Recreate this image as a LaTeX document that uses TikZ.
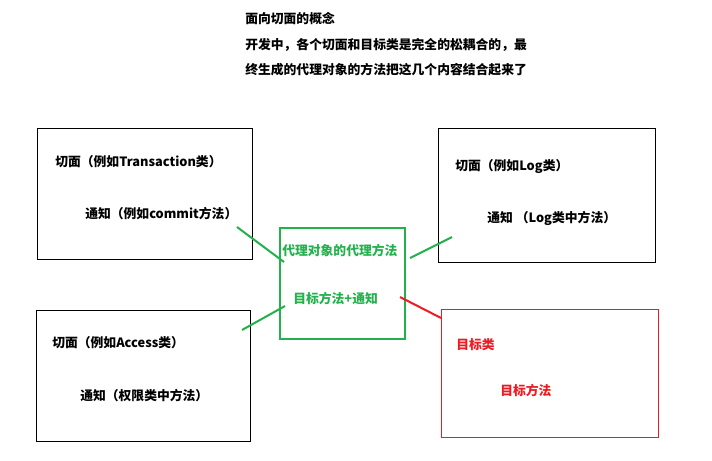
\documentclass[tikz,border=0pt]{standalone}
\usepackage{fontspec}
\setmainfont{Noto Sans CJK SC}
\newfontfamily\cjk{Noto Sans CJK SC}
\definecolor{aopgreen}{RGB}{34,177,76}
\definecolor{aopred}{RGB}{237,28,36}
\begin{document}
\begin{tikzpicture}[
    x=0.75pt,
    y=-0.75pt,
    box/.style={
        draw=black,
        line width=0.75pt
    },
    txt/.style={
        anchor=west,
        inner sep=0pt,
        font=\cjk\bfseries\fontsize{9.6}{11}\selectfont
    },
    link/.style={
        draw=aopgreen,
        line width=1.5pt
    }
]
\useasboundingbox (0,0) rectangle (712,460);

% Header
\node[txt] (title) at (245,19) {面向切面的概念};
\node[txt] (line1) at (245,45) {开发中，各个切面和目标类是完全的松耦合的，最};
\node[txt] (line2) at (245,70) {终生成的代理对象的方法把这几个内容结合起来了};

% Boxes
\draw[box] (37,128) rectangle (252,259);
\draw[box] (438,128) rectangle (655,262);
\draw[box] (36,310) rectangle (250,441);
\draw[draw=aopred, line width=0.75pt] (441,309) rectangle (658,437);
\draw[draw=aopgreen, line width=2pt] (280,228) rectangle (405,339);

% Box texts
\node[txt] (tx) at (55,162) {切面（例如Transaction类）};
\node[txt] (commit) at (85,214) {通知（例如commit方法）};
\node[txt] (log) at (455,167) {切面（例如Log类）};
\node[txt] (logm) at (487,218) {通知 （Log类中方法）};
\node[txt] (acc) at (52,343) {切面（例如Access类）};
\node[txt] (accm) at (80,396) {通知（权限类中方法）};
\node[txt, aopred] (tgt) at (456,345) {目标类};
\node[txt, aopred] (tgtm) at (500,391) {目标方法};
\node[txt, aopgreen] (proxy) at (282,251) {代理对象的代理方法};
\node[txt, aopgreen] (proxym) at (293,299) {目标方法+通知};

% Connectors
\coordinate (a1) at (237,227); \coordinate (a2) at (284,262);
\coordinate (b1) at (242,330); \coordinate (b2) at (285,306);
\coordinate (c1) at (452,237); \coordinate (c2) at (410,258);
\coordinate (d1) at (441,318); \coordinate (d2) at (400,297);
\draw[link] (a1) -- (a2);
\draw[link] (b1) -- (b2);
\draw[link] (c1) -- (c2);
\draw[draw=aopred, line width=1.5pt] (d1) -- (d2);

\end{tikzpicture}
\end{document}
